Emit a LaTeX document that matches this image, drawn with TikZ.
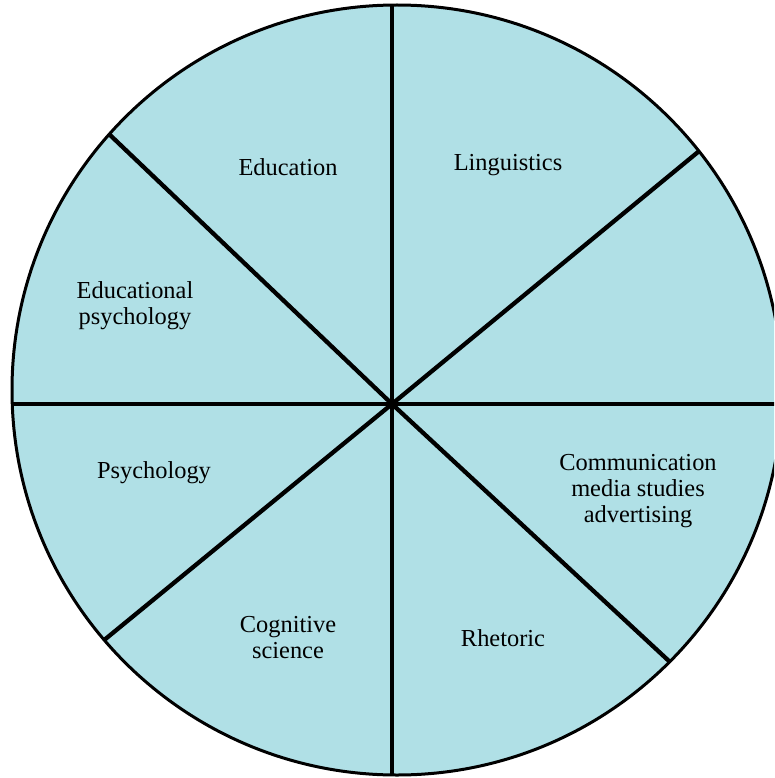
\documentclass[tikz,border=0pt]{standalone}
\usepackage{fontspec}
\setmainfont{Liberation Serif}
\usetikzlibrary{calc}
\definecolor{wedge}{HTML}{B0E0E6}
\begin{document}
\begin{tikzpicture}[x=1pt,y=-1pt,
  axis/.style={line width=3.5pt},
  diag/.style={line width=4.3pt},
  rim/.style={line width=3pt},
  lbl/.style={align=center,font=\fontsize{24.4}{26}\selectfont,inner sep=0pt}]
\useasboundingbox (0,0) rectangle (774,778);
\clip (0,0) rectangle (774,778);
\coordinate (C) at (397,390);
\coordinate (O) at (392,404);
\fill[wedge] (C) circle (385);
\begin{scope}
  \clip (C) circle (385);
  \coordinate (T) at (392,-20);
  \coordinate (B) at (392,800);
  \coordinate (L) at (-20,404);
  \coordinate (R) at (800,404);
  \coordinate (UL) at ($(O)!1.2!(110,135)$);
  \coordinate (LR) at ($(O)!1.2!(670,662)$);
  \coordinate (UR) at ($(O)!1.2!(698,152)$);
  \coordinate (LL) at ($(O)!1.2!(103,641)$);
  \draw[axis] (T) -- (B);
  \draw[axis] (L) -- (R);
  \draw[diag] (UL) -- (O) -- (LR);
  \draw[diag] (UR) -- (O) -- (LL);
\end{scope}
\draw[rim] (C) circle (385);
\node[lbl] (edu) at (288,167) {Education};
\node[lbl] (ling) at (508,165) {Linguistics};
\node[lbl] (edpsy) at (135,306) {Educational\\psychology};
\node[lbl] (psy) at (154,473) {Psychology};
\node[lbl] (comm) at (638,491) {Communication\\media studies\\advertising};
\node[lbl] (cog) at (288,638) {Cognitive\\science};
\node[lbl] (rhet) at (503,638) {Rhetoric};
\end{tikzpicture}
\end{document}
